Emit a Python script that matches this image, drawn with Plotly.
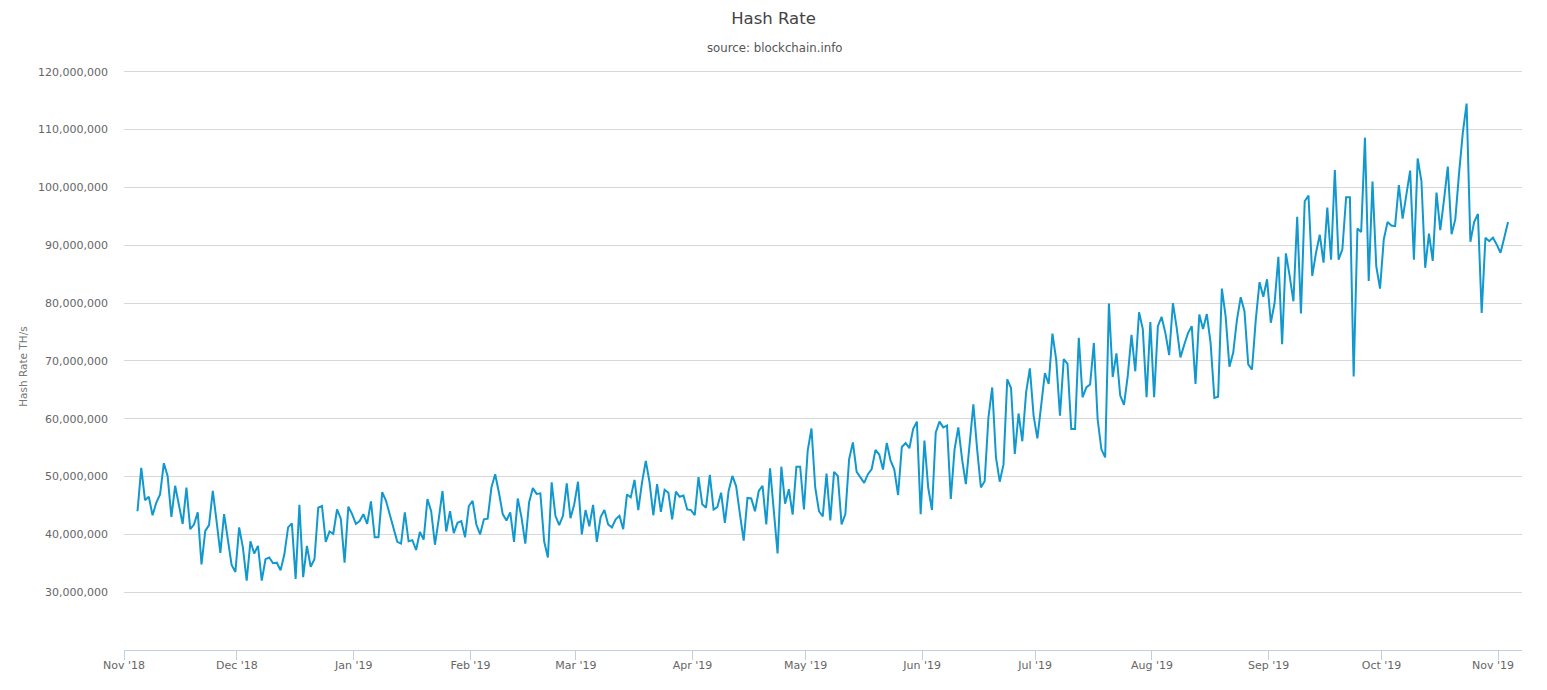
import pandas as pd
import plotly.graph_objects as go

# hash rate in millions of TH/s, one reading per day
hash_rate_m = [
    44.0, 51.5, 45.9, 46.5, 43.3, 45.5, 46.9, 52.3, 50.1, 43.0, 48.4, 45.2, 41.8, 48.1, 40.9, 41.7,
    43.8, 34.8, 40.6, 41.6, 47.5, 42.3, 36.8, 43.5, 39.1, 34.7, 33.5, 41.2, 37.7, 32.0, 38.8, 36.7,
    38.0, 32.0, 35.7, 36.0, 35.0, 35.1, 33.8, 36.5, 41.2, 41.9, 32.3, 45.1, 32.6, 38.0, 34.4, 35.7,
    44.6, 44.9, 38.7, 40.5, 40.1, 44.3, 42.7, 35.1, 44.8, 43.5, 41.8, 42.3, 43.5, 41.8, 45.7, 39.5,
    39.5, 47.3, 45.8, 43.5, 41.4, 38.7, 38.4, 43.8, 38.8, 39.0, 37.3, 40.4,
    39.1, 46.1, 44.0, 38.2, 42.6, 47.5, 40.5, 44.0, 40.2, 42.0, 42.3, 39.5, 44.9, 45.8, 41.7, 40.0,
    42.6, 42.7, 48.1, 50.4, 47.2, 43.5, 42.4, 43.8, 38.7, 46.2, 42.9, 38.4, 45.5, 48.0, 47.0, 47.1,
    38.8, 36.0, 49.0, 43.2, 41.6, 43.2, 48.8, 42.8, 45.2, 49.1, 40.0, 44.2, 41.4, 45.1, 38.7, 43.0,
    44.2, 41.7, 41.2, 42.6, 43.2, 40.9, 46.9, 46.4, 49.4, 44.2, 49.0, 52.7, 49.0, 43.3, 48.7, 43.9,
    47.7, 47.2, 42.6, 47.4, 46.5, 46.7, 44.3, 44.2, 43.3, 49.9, 45.2, 44.6, 50.3,
    44.3, 44.7, 47.2, 42.0, 47.5, 50.1, 48.3, 43.5, 38.9, 46.3, 46.2, 44.0, 47.5, 48.4, 41.7, 51.4,
    44.0, 36.7, 51.7, 45.3, 47.8, 43.4, 51.7, 51.7, 44.3, 54.5, 58.3, 48.1, 44.0, 43.1, 50.5, 42.4,
    50.8, 50.1, 41.7, 43.5, 53.0, 55.9, 50.8, 49.8, 48.9, 50.4, 51.3, 54.6, 53.8, 51.2, 55.8, 52.8,
    51.2, 46.8, 55.1, 55.8, 54.9, 58.2, 59.5, 43.5, 56.2, 48.1, 44.2, 57.6, 59.5, 58.5, 58.8, 46.1,
    54.7, 58.5, 53.0, 48.7, 55.3, 62.5, 54.7, 48.1, 49.2, 60.2, 65.4, 53.3, 49.1,
    52.1, 66.8, 65.3, 53.9, 60.9, 56.1, 64.5, 68.7, 60.5, 56.6, 62.5, 67.9, 66.0, 74.7, 70.2, 60.5,
    70.3, 69.5, 58.2, 58.2, 74.0, 63.7, 65.4, 65.9, 73.1, 59.9, 54.7, 53.3, 79.9, 67.2, 71.3, 64.0,
    62.4, 67.4, 74.5, 68.2, 78.4, 75.5, 63.7, 76.7, 63.7, 76.0, 77.6, 74.8, 71.0, 80.0, 75.7, 70.6,
    72.8, 74.8, 76.0, 66.0, 78.0, 75.5, 78.1, 73.1, 63.6, 63.8, 82.5, 77.7, 69.0, 71.4, 77.1, 81.0,
    78.6, 69.4, 68.5, 77.1, 83.6, 81.1, 84.1, 76.6, 80.0, 88.0, 72.9,
    88.6, 84.7, 80.3, 94.9, 78.2, 97.6, 98.6, 84.7, 88.7, 91.8, 87.0, 96.5, 87.5, 103.0, 87.5, 89.3,
    98.3, 98.3, 67.3, 92.9, 92.3, 108.6, 83.8, 101.0, 86.4, 82.5, 91.0, 94.0, 93.4, 93.3, 100.4, 94.6,
    98.8, 102.9, 87.5, 105.0, 101.1, 86.1, 92.0, 87.3, 99.1, 92.6, 97.9, 103.6, 91.9, 94.5, 102.5, 109.5,
    114.5, 90.6, 94.0, 95.4, 78.3, 91.3, 90.7, 91.3, 90.1, 88.7, 91.3, 94.0,
]

month_ticks = ["2018-11-01", "2018-12-01", "2019-01-01", "2019-02-01", "2019-03-01", "2019-04-01", "2019-05-01",
               "2019-06-01", "2019-07-01", "2019-08-01", "2019-09-01", "2019-10-01", "2019-11-01"]
month_labels = ["Nov '18", "Dec '18", "Jan '19", "Feb '19", "Mar '19", "Apr '19", "May '19",
                "Jun '19", "Jul '19", "Aug '19", "Sep '19", "Oct '19", ""]
last_label = "Nov '19"
y_ticks = [30e6, 40e6, 50e6, 60e6, 70e6, 80e6, 90e6, 100e6, 110e6, 120e6]

dates = pd.date_range("2018-11-04 14:00", periods=len(hash_rate_m), freq="D")
values = [v * 1e6 for v in hash_rate_m]

font = "DejaVu Sans"
text_col = "#666666"

fig = go.Figure()
fig.add_trace(go.Scatter(x=dates, y=values, mode="lines", name="Hash Rate",
                         line=dict(color="#1198ce", width=2)))

fig.update_layout(
    width=1547, height=690,
    margin=dict(l=123.5, r=25, t=69.76, b=40),
    paper_bgcolor="white", plot_bgcolor="white",
    showlegend=False,
    font=dict(family=font, size=11, color=text_col),
    title=dict(text="Hash Rate", x=0.5, xanchor="center", y=0.974, yanchor="middle",
               font=dict(family=font, size=16.5, color="#444444")),
)
fig.update_xaxes(
    range=["2018-11-01", "2019-11-07 07:00"],
    tickmode="array", tickvals=month_ticks, ticktext=month_labels,
    showgrid=False, zeroline=False,
    showline=True, linecolor="#c0d0e0", linewidth=1,
    ticks="outside", ticklen=9, tickcolor="#c0d0e0", tickwidth=1,
    ticklabelstandoff=-4,
    tickfont=dict(size=11, color=text_col),
)
# range runs past 120M because plotly skips a gridline sitting on the plot edge
fig.update_yaxes(
    range=[20e6, 120.3e6],
    tickmode="array", tickvals=y_ticks, tickformat=",d",
    showgrid=True, gridcolor="#d8d8d8", gridwidth=1,
    zeroline=False, showline=False, ticks="",
    ticklabelstandoff=15,
    tickfont=dict(size=11, color=text_col),
)
fig.add_annotation(text="source: blockchain.info", xref="paper", yref="paper", x=0.4651, y=1.0375,
                   xanchor="center", yanchor="middle", showarrow=False,
                   font=dict(size=11.75, color="#555555"))
fig.add_annotation(text="Hash Rate TH/s", xref="paper", yref="paper", x=-0.0719, y=0.489,
                   xanchor="center", yanchor="middle", textangle=-90, showarrow=False,
                   font=dict(size=10.5, color="#777777"))
fig.add_annotation(text=last_label, xref="x", yref="paper", x=month_ticks[-1], y=0,
                   yshift=-15.5, xshift=-5, xanchor="center", yanchor="middle", showarrow=False,
                   font=dict(size=11, color=text_col))

fig.write_html("out.html", config={"displayModeBar": False},
               post_script="document.body.style.margin='0';")
